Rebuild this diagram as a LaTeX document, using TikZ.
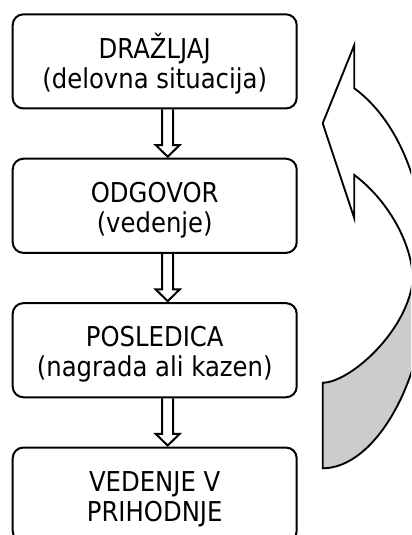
\documentclass[tikz,border=0pt]{standalone}
\usepackage{fontspec}
\setmainfont[FakeStretch=0.89]{DejaVu Sans}
\usetikzlibrary{calc}
\definecolor{tailgray}{RGB}{204,204,204}
\tikzset{
  box/.style={draw, line width=1.5pt, rounded corners=8pt, minimum width=213pt,
    minimum height=70.6pt, align=center, inner sep=0pt,
    font=\fontsize{20.5pt}{22.5pt}\selectfont},
  chainline/.style={draw, line width=1.5pt, line join=miter},
  curveline/.style={draw, line width=1.4pt, line join=miter}
}
\newcommand\chainarrow[2]{%
  \draw[chainline] ($(#1.south)+(7.3,0)$) -- ($(#2.north)+(7.3,-12.7)$)
    -- ($(#2.north)+(1,-12.7)$) -- ($(#2.north)+(13,-1)$)
    -- ($(#2.north)+(25,-12.7)$) -- ($(#2.north)+(18.3,-12.7)$)
    -- ($(#1.south)+(18.3,0)$);}
\newcommand\firstline{\rule{0pt}{22.5pt}}
\newcommand\lastline{\rule[-4.95pt]{0pt}{4.95pt}}
\begin{document}
\begin{tikzpicture}[x=0.75pt,y=-0.75pt]
\useasboundingbox (0,0) rectangle (411,535);
\clip (0,0) rectangle (411,535);
% boxes
\node[box] (b1) at (154.7,61.4) {\firstline DRAŽLJAJ\\(delovna situacija)\lastline};
\node[box] (b2) at (154.7,205.8) {\firstline ODGOVOR\\(vedenje)\lastline};
\node[box] (b3) at (154.7,350.2) {\firstline POSLEDICA\\(nagrada ali kazen)\lastline};
\node[box] (b4) at (154.7,494.6) {\firstline VEDENJE V\\PRIHODNJE\lastline};
% block arrows between boxes
\chainarrow{b1}{b2}
\chainarrow{b2}{b3}
\chainarrow{b3}{b4}
% curved return arrow: shaded back part
\filldraw[curveline, fill=tailgray] (413,278) .. controls (409,330) and (350,382.7) .. (322.7,382.7)
  -- (322.7,468.3) .. controls (375,468.3) and (427,380) .. (427,276) -- cycle;
% curved return arrow: front part with head
\filldraw[curveline, fill=white] (354.3,45) -- (322.7,123.3) -- (354.3,218.3) -- (354.3,175)
  .. controls (386.3,199) and (411,240) .. (413,278) -- (427,276)
  .. controls (427,200) and (404.3,125.3) .. (354.3,88.3) -- cycle;
\end{tikzpicture}
\end{document}
